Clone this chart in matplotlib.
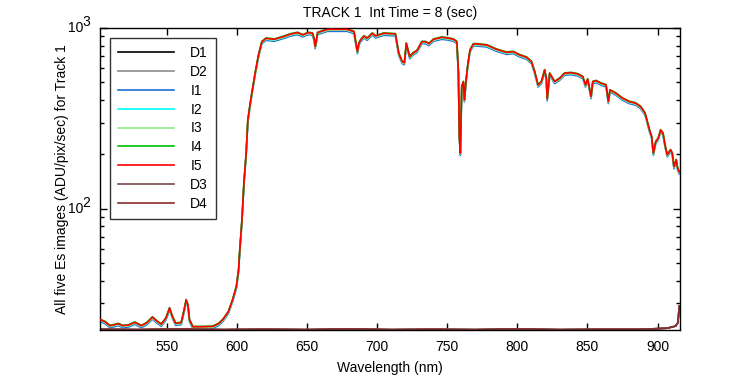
import math
import matplotlib
matplotlib.use("Agg")
import matplotlib.pyplot as plt
import matplotlib.transforms as mtransforms
from matplotlib.ticker import LogLocator, NullFormatter, FixedLocator

plt.rcParams['font.family'] = ['Liberation Sans', 'DejaVu Sans']

# ---- data ----
wavelength = [502.7, 506, 509.6, 513, 515.5, 518.8, 523, 527.3, 532, 536, 539.9, 543,
              546.2, 549.5, 552.1, 554, 556.4, 560.4, 562.5, 563.9, 565.2, 566.3, 568.7,
              575, 582.9, 587, 590, 594, 597, 599.7, 601.3, 602, 603.7, 605.1, 606.7,
              607.9, 609.8, 611.5, 613.3, 615.5, 617.9, 620.9, 626.8, 632.8, 638.7,
              643.4, 647, 651, 654.1, 655.3, 655.9, 656.8, 657.6, 664.7, 671.8, 678.9,
              683.6, 686, 687.1, 688.3, 690.7, 693, 696.6, 699, 704.8, 713.1, 715.5,
              717.9, 719.5, 720.9, 723.3, 725.5, 728.5, 732, 734.4, 737, 740.3, 746.2,
              750.5, 754.5, 756.9, 758.0, 758.7, 759.4, 760.4, 761.6, 762.3, 763.5,
              764.7, 766.3, 768.7, 771.1, 778.2, 785.3, 792.4, 797.1, 801.8, 806.6,
              810.1, 812.4, 814.8, 817.2, 819.5, 820.7, 821.3, 823.1, 826.6, 830.2,
              833.7, 838.4, 843.1, 846.7, 848.6, 850.2, 852.6, 853.8, 856.2, 859.7,
              863.3, 864.9, 866.1, 870.3, 875, 879.8, 884.5, 888, 891.1, 892.7, 893.9,
              895.8, 897, 898.7, 900.5, 902.2, 903.9, 905.3, 906.9, 909.3, 910.5,
              911.7, 913.3, 914.3, 915.5]

es_signal = [24.4, 23.8, 22.6, 22.9, 23.2, 22.6, 22.8, 23.6, 22.6, 23.5, 25.2, 24.0,
             23.0, 24.9, 28.3, 25.6, 23.3, 23.5, 27.7, 31.4, 29.5, 24.4, 22.3,
             22.3, 22.4, 23.2, 24.4, 27.0, 31.4, 37.2, 46, 56.9, 86.9, 138.6, 203,
             310, 392, 474, 574, 709, 840, 877, 866, 895, 927,
             943, 915, 943, 935, 859, 788, 859, 943, 983, 983, 983,
             954, 740, 823, 859, 903, 877, 935, 903, 935, 927, 725,
             652, 643, 823, 694, 725, 750, 840, 840, 820, 866, 888,
             880, 866, 840, 574, 251, 203, 474, 505, 400, 516,
             625, 756, 816, 816, 805, 762, 733, 740, 709, 689,
             652, 574, 484, 505, 586, 527, 405, 562, 505, 527,
             562, 566, 557, 538, 484, 522, 417, 505, 511, 495,
             484, 392, 454, 436, 409, 392, 384, 367, 338, 304, 279,
             251, 203, 235, 246, 273, 262, 226, 199, 212, 203,
             171, 187, 168, 160]

# relative level of each illuminated image versus the red (I5) trace
image_gain = [0.975, 0.99, 0.99, 1.005, 1.0]

dark_wavelength = [502.7, 530, 560, 590, 620, 650, 680, 710, 740, 770, 800, 830,
                   860, 890, 906.7, 910, 912.9, 914.5, 915.5]
dark_signal = [21.6, 21.5, 21.7, 21.5, 21.6, 21.5, 21.7, 21.5, 21.6, 21.5, 21.7, 21.5,
               21.6, 21.6, 21.9, 22.2, 22.5, 23.5, 29.0]

labels = ['D1', 'D2', 'I1', 'I2', 'I3', 'I4', 'I5', 'D3', 'D4']
colors = ['#000000', '#8c8c8c', '#1f6fd8', '#00ffff', '#8cf08c', '#00c000',
          '#ff0000', '#7a4a4a', '#8b2d2d']
title = 'TRACK 1  Int Time = 8 (sec)'
xlabel = 'Wavelength (nm)'
ylabel = 'All five Es images (ADU/pix/sec) for Track 1'
xticks = [550, 600, 650, 700, 750, 800, 850, 900]
yticks = [100, 1000]

fig = plt.figure(figsize=(7.5, 3.75), dpi=100)
ax = fig.add_axes([100/750, 45/375, 580/750, 302/375])

lines = []
gi = 0
for lab, col in zip(labels, colors):
    if lab.startswith('D'):
        l, = ax.plot(dark_wavelength, dark_signal, color=col, lw=1.2)
    else:
        g = image_gain[gi]
        gi += 1
        l, = ax.plot(wavelength, [v * g for v in es_signal], color=col, lw=1.2)
    lines.append(l)
lines[6].set_zorder(5)

ax.set_yscale('log')
ax.set_xlim(502.5, 916)
ax.set_ylim(21.4, 1000)
ax.xaxis.set_major_locator(FixedLocator(xticks))
ax.yaxis.set_major_locator(FixedLocator(yticks))
ax.yaxis.set_minor_locator(LogLocator(base=10, subs=range(2, 10)))
ax.yaxis.set_minor_formatter(NullFormatter())
ax.yaxis.set_major_formatter(NullFormatter())
ax.tick_params(which='both', direction='in', top=True, right=True, labelsize=10, width=1)
ax.tick_params(axis='x', pad=7)
ax.tick_params(which='major', length=5)
ax.tick_params(which='minor', length=3)
for s in ax.spines.values():
    s.set_linewidth(1)

# MATLAB-style "10" with raised exponent
trans = mtransforms.blended_transform_factory(ax.transAxes, ax.transData)
for v in yticks:
    e = int(round(math.log10(v)))
    ax.text(-17/580, v, '10', transform=trans, ha='right', va='center', fontsize=10)
    off = mtransforms.offset_copy(trans, fig=fig, x=0, y=5.5, units='dots')
    ax.text(-18/580, v, str(e), transform=off, ha='left', va='center', fontsize=10)

ax.set_title(title, fontsize=10, pad=8)
ax.set_xlabel(xlabel, fontsize=10, labelpad=5)
ax.set_ylabel(ylabel, fontsize=10, labelpad=19)

leg = ax.legend(lines, labels, loc='upper left', fontsize=10, handlelength=4.0,
                frameon=True, fancybox=False, edgecolor='black', borderaxespad=0.7,
                labelspacing=0.35, handletextpad=1.2, borderpad=0.6)
leg.get_frame().set_linewidth(1)

fig.savefig('out.png', dpi=100)
